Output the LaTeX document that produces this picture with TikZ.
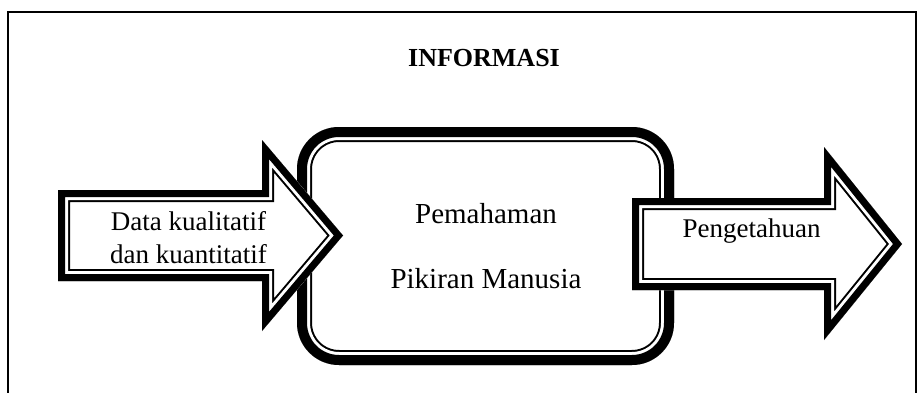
\documentclass[tikz,border=0pt]{standalone}
\usepackage{fontspec}
\setmainfont{Liberation Serif}
\newcommand{\thickthin}[4]{%
\begin{scope}
\clip #1;
\fill[white] #1;
\draw[line width=#2] #1;
\draw[white, line width=#3] #1;
\draw[line width=#4] #1;
\end{scope}}
\tikzset{
  lbl/.style={inner sep=0pt, anchor=base, font=\fontsize{27}{32}\selectfont},
  boxlbl/.style={lbl, font=\fontsize{29}{34}\selectfont},
  titlelbl/.style={lbl, font=\bfseries\fontsize{26}{31}\selectfont}
}
\begin{document}
\begin{tikzpicture}[x=1pt, y=-1pt, line join=miter]
\useasboundingbox (0,0) rectangle (917,393);
\draw[line width=2pt] (8.3,393) -- (8.3,12) -- (915.5,12) -- (915.5,393);
\thickthin{[rounded corners=42pt] (297,127) rectangle (674,365)}{30pt}{26pt}{20pt}
\thickthin{(58,190) -- (262,190) -- (262,140) -- (343,235.5) -- (262,331) -- (262,281) -- (58,281) -- cycle}{24pt}{20pt}{14pt}
\thickthin{(632,198) -- (824,198) -- (824,147) -- (902,244) -- (824,340) -- (824,290) -- (632,290) -- cycle}{24pt}{20pt}{14pt}
\node[titlelbl] (info) at (484,67) {INFORMASI};
\node[lbl] (datakual) at (188.5,230.7) {Data kualitatif};
\node[lbl] (dankuan) at (188.5,263) {dan kuantitatif};
\node[boxlbl] (paham) at (486,223) {Pemahaman};
\node[boxlbl] (pikiran) at (486,288) {Pikiran Manusia};
\node[lbl] (tahu) at (751.5,237) {Pengetahuan};
\end{tikzpicture}
\end{document}
